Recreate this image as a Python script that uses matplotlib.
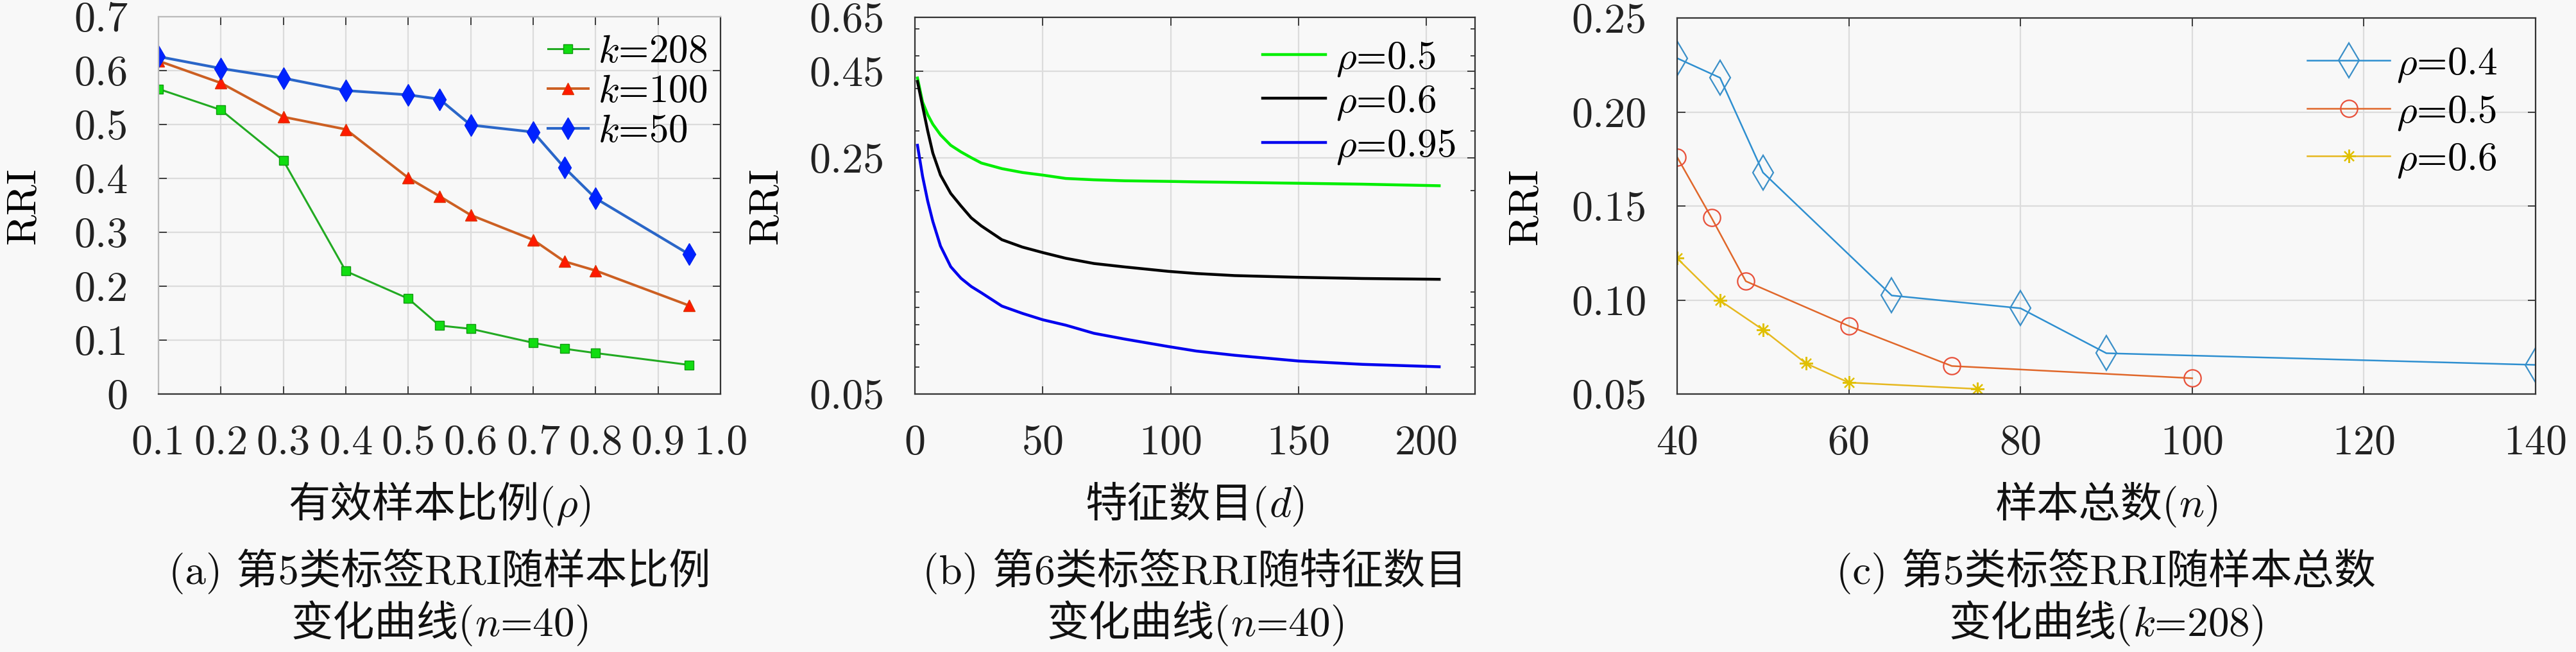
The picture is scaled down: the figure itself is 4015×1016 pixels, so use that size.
import matplotlib
matplotlib.use("Agg")
import matplotlib.pyplot as plt
from matplotlib.ticker import FixedLocator, FixedFormatter, NullFormatter
from matplotlib.offsetbox import TextArea, HPacker, AnchoredOffsetbox

FAM = ['cmr10', 'Noto Sans CJK SC', 'DejaVu Sans']
plt.rcParams['font.family'] = FAM
plt.rcParams['mathtext.fontset'] = 'cm'
plt.rcParams['axes.unicode_minus'] = False

FS = 47          # labels / captions
FS_TICK = 47.5
FS_LEG = 44
BG = '#f8f8f8'

# ---------------- data ----------------
# (a)
rho_a = [0.1, 0.2, 0.3, 0.4, 0.5, 0.55, 0.6, 0.7, 0.75, 0.8, 0.95]
k208 = [0.566, 0.527, 0.433, 0.228, 0.177, 0.127, 0.121, 0.095, 0.084, 0.076, 0.054]
k100 = [0.618, 0.577, 0.514, 0.491, 0.401, 0.367, 0.332, 0.286, 0.246, 0.229, 0.164]
k50 = [0.626, 0.604, 0.586, 0.563, 0.555, 0.547, 0.499, 0.486, 0.420, 0.363, 0.259]
labels_a = [r'$k$=208', r'$k$=100', r'$k$=50']
xticks_a = [0.1, 0.2, 0.3, 0.4, 0.5, 0.6, 0.7, 0.8, 0.9, 1.0]
xticklabels_a = ['0.1', '0.2', '0.3', '0.4', '0.5', '0.6', '0.7', '0.8', '0.9', '1.0']
yticks_a = [0, 0.1, 0.2, 0.3, 0.4, 0.5, 0.6, 0.7]
yticklabels_a = ['0', '0.1', '0.2', '0.3', '0.4', '0.5', '0.6', '0.7']

# (b)
d_b = [1, 3, 5, 7, 10, 14, 18, 22, 26, 34, 42, 50, 59, 70, 82, 99, 110, 125, 150, 175, 205]
rho05 = [0.430, 0.365, 0.335, 0.314, 0.292, 0.272, 0.260, 0.250, 0.241, 0.232, 0.226,
         0.222, 0.217, 0.215, 0.2136, 0.2127, 0.212, 0.2113, 0.210, 0.2087, 0.2065]
rho06 = [0.420, 0.355, 0.300, 0.258, 0.222, 0.196, 0.180, 0.166, 0.157, 0.143, 0.136,
         0.131, 0.126, 0.1216, 0.1188, 0.1153, 0.1136, 0.112, 0.1107, 0.1098, 0.1092]
rho095 = [0.272, 0.220, 0.186, 0.162, 0.137, 0.119, 0.110, 0.104, 0.0996, 0.091, 0.0866,
          0.0829, 0.0799, 0.0756, 0.0727, 0.0691, 0.0670, 0.0651, 0.0626, 0.0612, 0.0602]
labels_b = [r'$\rho$=0.5', r'$\rho$=0.6', r'$\rho$=0.95']
xticks_b = [0, 50, 100, 150, 200]
yticks_b = [0.05, 0.25, 0.45, 0.65]
yticklabels_b = ['0.05', '0.25', '0.45', '0.65']
yminor_b = [0.06, 0.07, 0.08, 0.09, 0.1, 0.2, 0.3, 0.4, 0.5, 0.6]

# (c)
n_c04 = [40, 45, 50, 65, 80, 90, 140]
c04 = [0.2286, 0.2182, 0.1678, 0.1024, 0.0956, 0.0717, 0.0655]
n_c05 = [40, 44, 48, 60, 72, 100]
c05 = [0.176, 0.1438, 0.110, 0.0862, 0.0649, 0.0584]
n_c06 = [40, 45, 50, 55, 60, 75]
c06 = [0.1222, 0.0997, 0.0842, 0.0663, 0.0561, 0.0527]
labels_c = [r'$\rho$=0.4', r'$\rho$=0.5', r'$\rho$=0.6']
xticks_c = [40, 60, 80, 100, 120, 140]
yticks_c = [0.05, 0.10, 0.15, 0.20, 0.25]
yticklabels_c = ['0.05', '0.10', '0.15', '0.20', '0.25']

# text pieces (CJK part, math part)
xlabels = [['有效样本比例(', r'$\rho$)'], ['特征数目(', r'$d$)'], ['样本总数(', r'$n$)']]
captions1 = [['(a) 第5类标签RRI随样本比例'], ['(b) 第6类标签RRI随特征数目'], ['(c) 第5类标签RRI随样本总数']]
captions2 = [['变化曲线(', r'$n$=40)'], ['变化曲线(', r'$n$=40)'], ['变化曲线(', r'$k$=208)']]

# ---------------- figure ----------------
W, H = 4016, 1016
fig = plt.figure(figsize=(W / 100, H / 100), dpi=100, facecolor=BG)

def px_axes(l, t, r, b):
    return fig.add_axes([l / W, 1 - b / H, (r - l) / W, (b - t) / H])

def rich_text(parts, cx, cy):
    boxes = [TextArea(p, textprops=dict(fontsize=FS, family=FAM, color='#111111')) for p in parts]
    hp = HPacker(children=boxes, align='baseline', pad=0, sep=0)
    ab = AnchoredOffsetbox(loc='center', child=hp, pad=0, borderpad=0, frameon=False,
                           bbox_to_anchor=(cx / W, 1 - cy / H),
                           bbox_transform=fig.transFigure)
    fig.add_artist(ab)

def fitted_legend(ax, top_px, step_px, right_px, **kw):
    """Place a frameless legend so that its first label top, row step and
    right text edge land at the given pixel positions (measured from top-left)."""
    fs_px = FS_LEG * 100 / 72
    spacing = 0.0
    anchor = [1.0, 1.0]
    for _ in range(3):
        leg = ax.legend(loc='upper right', bbox_to_anchor=tuple(anchor),
                        bbox_transform=fig.transFigure, frameon=False,
                        fontsize=FS_LEG, borderpad=0, borderaxespad=0,
                        labelspacing=spacing, **kw)
        fig.canvas.draw()
        bbs = [t.get_window_extent() for t in leg.get_texts()]
        step = bbs[0].y1 - bbs[1].y1
        spacing += (step_px - step) / fs_px
        top = H - bbs[0].y1
        right = max(b.x1 for b in bbs)
        anchor[0] += (right_px - right) / W
        anchor[1] -= (top_px - top) / H
    leg = ax.legend(loc='upper right', bbox_to_anchor=tuple(anchor),
                    bbox_transform=fig.transFigure, frameon=False,
                    fontsize=FS_LEG, borderpad=0, borderaxespad=0,
                    labelspacing=spacing, **kw)
    return leg

axa = px_axes(247, 26, 1123, 614)
axb = px_axes(1426, 27, 2299, 614)
axc = px_axes(2614, 28, 3952, 614)

for ax in (axa, axb, axc):
    ax.set_facecolor(BG)
    ax.grid(True, color='#dcdcdc', linewidth=1.6)
    ax.set_axisbelow(True)
    ax.tick_params(which='both', direction='in', top=True, right=True,
                   labelsize=FS_TICK, pad=34, length=9, width=1.2, colors='#222222')
    ax.tick_params(which='minor', length=5)
    for s in ax.spines.values():
        s.set_color('#333333')
        s.set_linewidth(1.6)

# (a)
axa.plot(rho_a, k208, color='#22aa22', lw=2.2, marker='s', ms=10,
         mfc='#11dd11', mec='#119911', label=labels_a[0])
axa.plot(rho_a, k100, color='#cc5f22', lw=2.8, marker='^', ms=13,
         mfc='#ff1a00', mec='#dd3300', label=labels_a[1])
axa.plot(rho_a, k50, color='#2a66c8', lw=3.0, marker='d', ms=17,
         mfc='#0022ff', mec='#0022ee', label=labels_a[2])
axa.set_xlim(0.1, 1.0)
axa.set_ylim(0, 0.7)
axa.xaxis.set_major_locator(FixedLocator(xticks_a))
axa.xaxis.set_major_formatter(FixedFormatter(xticklabels_a))
axa.yaxis.set_major_locator(FixedLocator(yticks_a))
axa.yaxis.set_major_formatter(FixedFormatter(yticklabels_a))
axa.spines['top'].set_color('#bbbbbb')
axa.spines['left'].set_color('#bbbbbb')

# (b)
axb.plot(d_b, rho05, color='#00ee00', lw=3.2, label=labels_b[0])
axb.plot(d_b, rho06, color='#000000', lw=3.2, label=labels_b[1])
axb.plot(d_b, rho095, color='#0000ee', lw=3.2, label=labels_b[2])
axb.set_yscale('log')
axb.set_xlim(0, 219)
axb.set_ylim(0.05, 0.65)
axb.xaxis.set_major_locator(FixedLocator(xticks_b))
axb.yaxis.set_major_locator(FixedLocator(yticks_b))
axb.yaxis.set_major_formatter(FixedFormatter(yticklabels_b))
axb.yaxis.set_minor_locator(FixedLocator(yminor_b))
axb.yaxis.set_minor_formatter(NullFormatter())
axb.grid(False, which='minor')

# (c)
axc.plot(n_c04, c04, color='#2e8fd0', lw=1.8, marker='d', ms=27, mfc='none',
         mec='#3a8fc8', mew=1.6, label=labels_c[0])
axc.plot(n_c05, c05, color='#e0672a', lw=1.8, marker='o', ms=19, mfc='none',
         mec='#e8503a', mew=1.6, label=labels_c[1])
axc.plot(n_c06, c06, color='#e6b820', lw=1.8, marker=(8, 2, 0), ms=15,
         mec='#e0c000', mew=1.6, label=labels_c[2])
axc.set_xlim(40, 140)
axc.set_ylim(0.05, 0.25)
axc.xaxis.set_major_locator(FixedLocator(xticks_c))
axc.yaxis.set_major_locator(FixedLocator(yticks_c))
axc.yaxis.set_major_formatter(FixedFormatter(yticklabels_c))

# y labels
for ax, ylx in ((axa, -0.207), (axb, -0.233), (axc, -0.155)):
    ax.set_ylabel('RRI', fontsize=FS)
    ax.yaxis.set_label_coords(ylx, 0.5)

# x labels and captions (mixed CJK + math pieces)
centers = [(247 + 1123) / 2, (1426 + 2299) / 2, (2614 + 3952) / 2]
for cx, xl, c1, c2 in zip(centers, xlabels, captions1, captions2):
    rich_text(xl, cx, 787)
    rich_text(c1, cx, 890)
    rich_text(c2, cx, 972)

# legends
fitted_legend(axa, top_px=54, step_px=62, right_px=1102,
              handlelength=1.03, handletextpad=0.24)
fitted_legend(axb, top_px=62, step_px=69, right_px=2268,
              handlelength=1.6, handletextpad=0.25)
fitted_legend(axc, top_px=72, step_px=74, right_px=3892,
              handlelength=2.1, handletextpad=0.16)

fig.savefig('out.png', dpi=100, facecolor=BG)
